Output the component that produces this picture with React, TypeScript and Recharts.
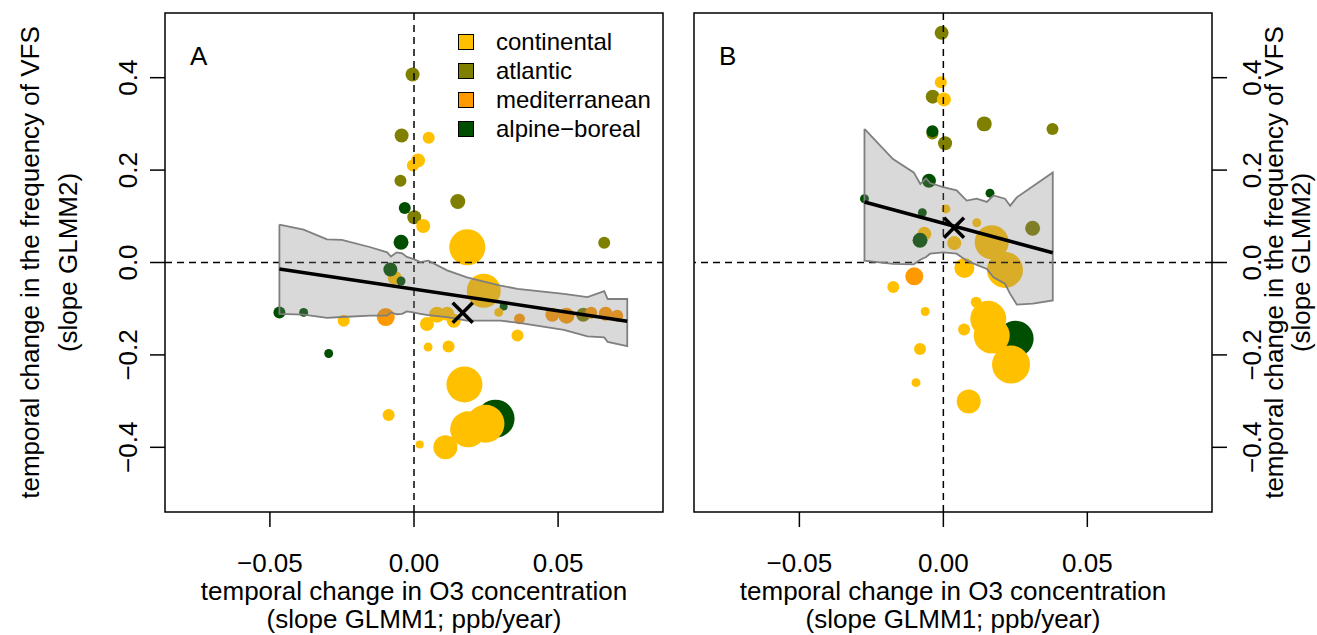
import React from "react";
import {
  ComposedChart,
  Scatter,
  Area,
  XAxis,
  YAxis,
  ZAxis,
  ReferenceLine,
  ReferenceArea,
  Cell,
  Legend,
} from "recharts";

const FONT = "'Liberation Sans', Arial, Helvetica, sans-serif";

// regions (legend order) and their colours
const regions = ["continental", "atlantic", "mediterranean", "alpine\u2212boreal"];
const regionKeys = ["c", "a", "m", "b"];
const regionColors = ["#FFC000", "#7F7F00", "#FF9900", "#004F00"];

const xTicks = [-0.05, 0, 0.05];
const yTicks = [-0.4, -0.2, 0, 0.2, 0.4];
const xDomainA = [-0.0864, 0.0864];
const xDomainB = [-0.0866, 0.0933];
const yDomain = [-0.54, 0.54];

// [O3 slope, VFS slope, n plots, region]
const pointsA: [number, number, number, string][] = [
  [-0.0005, 0.407, 49, "a"],
  [-0.0043, 0.275, 49, "a"],
  [-0.0047, 0.177, 36, "a"],
  [0.0152, 0.132, 56, "a"],
  [0.066, 0.043, 36, "a"],
  [-0.0032, 0.118, 36, "b"],
  [0.0001, 0.098, 49, "a"],
  [-0.0045, 0.044, 56, "b"],
  [-0.0067, -0.033, 49, "c"],
  [-0.0082, -0.015, 49, "b"],
  [-0.0045, -0.04, 20, "b"],
  [-0.0467, -0.108, 36, "b"],
  [-0.0383, -0.108, 20, "b"],
  [-0.0296, -0.197, 20, "b"],
  [0.0311, -0.095, 16, "b"],
  [0.0283, -0.338, 361, "b"],
  [-0.0098, -0.118, 81, "m"],
  [0.0366, -0.122, 30, "m"],
  [0.048, -0.113, 49, "m"],
  [0.0529, -0.115, 64, "m"],
  [0.0587, -0.113, 49, "a"],
  [0.0615, -0.109, 36, "m"],
  [0.0665, -0.111, 49, "m"],
  [0.0705, -0.115, 36, "m"],
  [0.0051, 0.27, 36, "c"],
  [0.0014, 0.221, 49, "c"],
  [-0.0004, 0.21, 36, "c"],
  [0.0032, 0.079, 49, "c"],
  [0.0185, 0.033, 324, "c"],
  [0.0242, -0.061, 289, "c"],
  [0.0294, -0.108, 20, "c"],
  [-0.0244, -0.126, 36, "c"],
  [0.008, -0.113, 64, "c"],
  [0.0045, -0.133, 49, "c"],
  [0.0115, -0.111, 49, "c"],
  [0.0138, -0.126, 49, "c"],
  [0.0049, -0.183, 20, "c"],
  [0.012, -0.182, 36, "c"],
  [0.0359, -0.158, 36, "c"],
  [0.0175, -0.264, 324, "c"],
  [0.0248, -0.349, 361, "c"],
  [0.0188, -0.361, 324, "c"],
  [0.0109, -0.4, 144, "c"],
  [0.002, -0.394, 16, "c"],
  [-0.0088, -0.33, 36, "c"],
];

const pointsB: [number, number, number, string][] = [
  [-0.0006, 0.497, 49, "a"],
  [-0.0037, 0.359, 49, "a"],
  [-0.0038, 0.279, 36, "a"],
  [0.0006, 0.258, 49, "a"],
  [0.0142, 0.3, 56, "a"],
  [0.0379, 0.289, 36, "a"],
  [0.031, 0.074, 56, "a"],
  [-0.0066, 0.062, 49, "c"],
  [-0.0038, 0.284, 36, "b"],
  [-0.005, 0.177, 49, "b"],
  [-0.0274, 0.138, 20, "b"],
  [-0.0073, 0.108, 20, "b"],
  [0.0162, 0.15, 20, "b"],
  [-0.0081, 0.048, 56, "b"],
  [0.0251, -0.165, 324, "b"],
  [-0.0101, -0.03, 81, "m"],
  [-0.0009, 0.39, 36, "c"],
  [0.0002, 0.353, 49, "c"],
  [0.0009, 0.116, 20, "c"],
  [0.0116, 0.086, 20, "c"],
  [0.0038, 0.042, 49, "c"],
  [0.0168, 0.044, 289, "c"],
  [0.0214, -0.016, 324, "c"],
  [0.0073, -0.012, 100, "c"],
  [-0.0174, -0.053, 36, "c"],
  [-0.0063, -0.106, 20, "c"],
  [0.0114, -0.086, 30, "c"],
  [0.0072, -0.145, 36, "c"],
  [-0.0081, -0.187, 36, "c"],
  [0.0156, -0.122, 324, "c"],
  [0.0168, -0.158, 324, "c"],
  [0.0235, -0.221, 361, "c"],
  [-0.0095, -0.26, 20, "c"],
  [0.0088, -0.301, 144, "c"],
];

// confidence band: [x, lower, upper]
const bandA: [number, number, number][] = [
  [-0.0467, -0.111, 0.082],
  [-0.0383, -0.113, 0.071],
  [-0.0302, -0.12, 0.05],
  [-0.025, -0.118, 0.049],
  [-0.0151, -0.115, 0.033],
  [-0.0093, -0.115, 0.022],
  [-0.008, -0.108, 0.013],
  [-0.006, -0.112, 0.022],
  [-0.0041, -0.111, 0.02],
  [-0.0025, -0.106, 0.012],
  [-0.0003, -0.108, 0.008],
  [0.0022, -0.111, 0.001],
  [0.005, -0.114, 0.004],
  [0.0115, -0.118, -0.017],
  [0.0184, -0.126, -0.032],
  [0.03, -0.126, -0.05],
  [0.0359, -0.13, -0.057],
  [0.052, -0.146, -0.068],
  [0.0602, -0.16, -0.075],
  [0.066, -0.162, -0.062],
  [0.0672, -0.172, -0.079],
  [0.074, -0.181, -0.079],
];

const bandB: [number, number, number][] = [
  [-0.0274, 0.004, 0.289],
  [-0.0175, -0.003, 0.224],
  [-0.0103, -0.004, 0.195],
  [-0.008, 0.006, 0.17],
  [-0.006, 0.012, 0.182],
  [-0.0046, 0.019, 0.172],
  [0.0, 0.022, 0.163],
  [0.0046, 0.019, 0.156],
  [0.0081, 0.004, 0.134],
  [0.0116, -0.005, 0.138],
  [0.0151, -0.014, 0.131],
  [0.0174, -0.032, 0.145],
  [0.0214, -0.046, 0.138],
  [0.0232, -0.068, 0.123],
  [0.0255, -0.091, 0.141],
  [0.0311, -0.089, 0.165],
  [0.038, -0.082, 0.195],
];

const fitA = [
  { x: -0.0467, y: -0.014 },
  { x: 0.074, y: -0.127 },
];
const fitB = [
  { x: -0.0274, y: 0.131 },
  { x: 0.038, y: 0.021 },
];
const centreA = { x: 0.0169, y: -0.109 };
const centreB = { x: 0.0037, y: 0.075 };

const minus = (s: string) => s.replace("-", "\u2212");
const fmtX = (v: number) => minus(v.toFixed(2));
const fmtY = (v: number) => minus(v.toFixed(1));

function XTitle(props: any) {
  const vb = props.viewBox || { x: 0, y: 512, width: 0, height: 123 };
  const cx = vb.x + vb.width / 2;
  return (
    <g fill="#000" fontSize={26} fontFamily={FONT}>
      <text x={cx} y={vb.y + 88} textAnchor="middle">
        temporal change in O3 concentration
      </text>
      <text x={cx} y={vb.y + 116} textAnchor="middle">
        (slope GLMM1; ppb/year)
      </text>
    </g>
  );
}

function YTitle(props: any) {
  const vb = props.viewBox || { x: 0, y: 13, width: 165, height: 499 };
  const cy = vb.y + vb.height / 2;
  const x1 = props.side === "left" ? vb.x + 39 : vb.x + 71;
  const x2 = props.side === "left" ? vb.x + 77 : vb.x + 98;
  return (
    <g fill="#000" fontSize={26} fontFamily={FONT}>
      <text x={x1} y={cy} textAnchor="middle" transform={`rotate(-90 ${x1} ${cy})`}>
        temporal change in the frequency of VFS
      </text>
      <text x={x2} y={cy} textAnchor="middle" transform={`rotate(-90 ${x2} ${cy})`}>
        (slope GLMM2)
      </text>
    </g>
  );
}

function YTick(props: any) {
  const { x, y, payload, side } = props;
  const bx = side === "left" ? x - 13 : x + 34;
  return (
    <text
      x={bx}
      y={y}
      textAnchor="middle"
      fontSize={26}
      fontFamily={FONT}
      fill="#000"
      transform={`rotate(-90 ${bx} ${y})`}
    >
      {fmtY(payload.value)}
    </text>
  );
}

function Cross(props: any) {
  const { cx, cy } = props;
  const s = 10;
  return (
    <g stroke="#000" strokeWidth={3.5}>
      <line x1={cx - s} y1={cy - s} x2={cx + s} y2={cy + s} />
      <line x1={cx - s} y1={cy + s} x2={cx + s} y2={cy - s} />
    </g>
  );
}

const Nothing = () => <g />;

function RegionLegend() {
  return (
    <div style={{ fontFamily: FONT, fontSize: 24, color: "#000" }}>
      {regions.map((r, i) => (
        <div key={r} style={{ display: "flex", alignItems: "center", height: 28.8 }}>
          <span
            style={{
              display: "inline-block",
              width: 14,
              height: 14,
              border: "1.5px solid #000",
              background: regionColors[i],
              marginRight: 22,
            }}
          />
          <span>{r}</span>
        </div>
      ))}
    </div>
  );
}

function Panel(props: any) {
  const { pts, band, fit, centre, xDomain, width, left, marginLeft, marginRight, side, letter, legend } =
    props;
  const data = band.map(([x, lo, hi]: number[]) => ({ x, lo, hi }));
  const top = band.map(([x, , hi]: number[]) => ({ x, y: hi }));
  const bottom = band
    .slice()
    .reverse()
    .map(([x, lo]: number[]) => ({ x, y: lo }));
  const outline = [...top, ...bottom, top[0]];
  const points = pts.map(([x, y, n, r]: any[]) => ({ x, y, n, r }));

  return (
    <div style={{ position: "absolute", left, top: 0 }}>
      <ComposedChart
        width={width}
        height={635}
        data={data}
        margin={{ top: 13, right: marginRight, bottom: 0, left: marginLeft }}
      >
        <XAxis
          type="number"
          dataKey="x"
          domain={xDomain}
          allowDataOverflow
          ticks={xTicks}
          interval={0}
          tickFormatter={fmtX}
          axisLine={false}
          tickLine={{ stroke: "#000", strokeWidth: 1.5 }}
          tickSize={15}
          tickMargin={27}
          height={123}
          tick={{ fill: "#000", fontSize: 26, fontFamily: FONT }}
          label={<XTitle />}
        />
        <YAxis
          type="number"
          dataKey="y"
          orientation={side}
          domain={yDomain}
          allowDataOverflow
          ticks={yTicks}
          interval={0}
          axisLine={false}
          tickLine={{ stroke: "#000", strokeWidth: 1.5 }}
          tickSize={15}
          tickMargin={0}
          width={side === "left" ? 165 : 105}
          tick={<YTick side={side} />}
          label={<YTitle side={side} />}
        />
        <ZAxis type="number" dataKey="n" domain={[0, 400]} range={[0, 400 * Math.PI]} />
        <Scatter data={points} isAnimationActive={false} zIndex={610}>
          {points.map((p: any, i: number) => (
            <Cell key={i} fill={regionColors[regionKeys.indexOf(p.r)]} />
          ))}
        </Scatter>
        <ReferenceLine x={0} stroke="#000" strokeWidth={1.5} strokeDasharray="7 5" zIndex={620} />
        <ReferenceLine y={0} stroke="#000" strokeWidth={1.5} strokeDasharray="7 5" zIndex={620} />
        <Area
          dataKey={(d: any) => [d.lo, d.hi]}
          type="linear"
          fill="rgb(128,128,128)"
          fillOpacity={0.3}
          stroke="none"
          isAnimationActive={false}
          zIndex={630}
        />
        <Scatter
          data={outline}
          fill="none"
          line={{ stroke: "#7f7f7f", strokeWidth: 1.8 }}
          lineType="joint"
          shape={<Nothing />}
          isAnimationActive={false}
          zIndex={640}
        />
        <Scatter
          data={fit}
          fill="none"
          line={{ stroke: "#000", strokeWidth: 3.5 }}
          lineType="joint"
          shape={<Nothing />}
          isAnimationActive={false}
          zIndex={650}
        />
        <Scatter data={[centre]} shape={<Cross />} isAnimationActive={false} zIndex={660} />
        <ReferenceArea
          x1={xDomain[0]}
          x2={xDomain[1]}
          y1={yDomain[0]}
          y2={yDomain[1]}
          fill="none"
          fillOpacity={0}
          stroke="#000"
          strokeWidth={1.5}
          zIndex={670}
          label={(lp: any) => {
            const vb = lp.viewBox || { x: 0, y: 13 };
            return (
              <text x={vb.x + 25} y={vb.y + 52} fontSize={26} fontFamily={FONT} fill="#000">
                {letter}
              </text>
            );
          }}
        />
        {legend && (
          <Legend
            layout="horizontal"
            verticalAlign="middle"
            align="center"
            wrapperStyle={{ left: 458, top: 28, width: 220, height: 120 }}
            content={() => <RegionLegend />}
          />
        )}
      </ComposedChart>
    </div>
  );
}

export default function App() {
  return (
    <div
      style={{
        position: "absolute",
        left: 0,
        top: 0,
        width: 1317,
        height: 635,
        overflow: "hidden",
        background: "#fff",
        fontFamily: FONT,
      }}
    >
      <Panel
        pts={pointsA}
        band={bandA}
        fit={fitA}
        centre={centreA}
        xDomain={xDomainA}
        width={680}
        left={0}
        marginLeft={0}
        marginRight={17}
        side="left"
        letter="A"
        legend
      />
      <Panel
        pts={pointsB}
        band={bandB}
        fit={fitB}
        centre={centreB}
        xDomain={xDomainB}
        width={637}
        left={680}
        marginLeft={14}
        marginRight={0}
        side="right"
        letter="B"
      />
    </div>
  );
}
